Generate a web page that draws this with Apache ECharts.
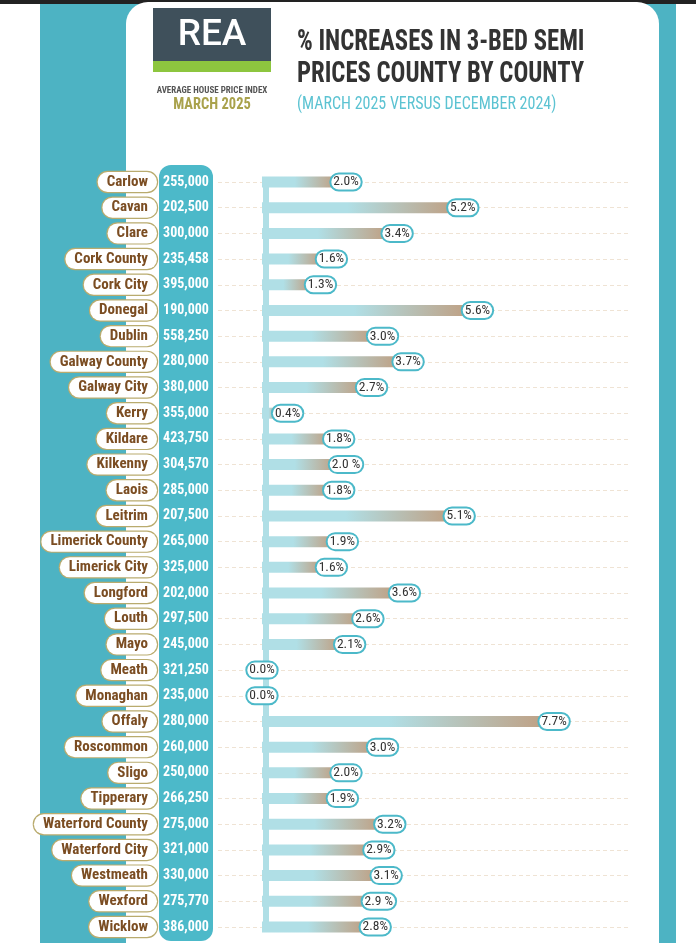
<!DOCTYPE html>
<html>
<head>
<meta charset="utf-8">
<script src="https://cdn.jsdelivr.net/npm/echarts@6/dist/echarts.min.js"></script>
<style>
  html, body { margin: 0; padding: 0; background: #fff; }
  #chart { width: 696px; height: 943px; }
</style>
</head>
<body>
<div id="chart"></div>
<script>
// 数据：各郡三居室半独立住宅价格及涨幅
const counties = ['Carlow', 'Cavan', 'Clare', 'Cork County', 'Cork City', 'Donegal', 'Dublin',
  'Galway County', 'Galway City', 'Kerry', 'Kildare', 'Kilkenny', 'Laois', 'Leitrim',
  'Limerick County', 'Limerick City', 'Longford', 'Louth', 'Mayo', 'Meath', 'Monaghan',
  'Offaly', 'Roscommon', 'Sligo', 'Tipperary', 'Waterford County', 'Waterford City',
  'Westmeath', 'Wexford', 'Wicklow'];
const prices = ['255,000', '202,500', '300,000', '235,458', '395,000', '190,000', '558,250',
  '280,000', '380,000', '355,000', '423,750', '304,570', '285,000', '207,500',
  '265,000', '325,000', '202,000', '297,500', '245,000', '321,250', '235,000',
  '280,000', '260,000', '250,000', '266,250', '275,000', '321,000',
  '330,000', '275,770', '386,000'];
const increases = [2.0, 5.2, 3.4, 1.6, 1.3, 5.6, 3.0, 3.7, 2.7, 0.4, 1.8, 2.0, 1.8, 5.1,
  1.9, 1.6, 3.6, 2.6, 2.1, 0.0, 0.0, 7.7, 3.0, 2.0, 1.9, 3.2, 2.9, 3.1, 2.9, 2.8];
const increaseLabels = ['2.0%', '5.2%', '3.4%', '1.6%', '1.3%', '5.6%', '3.0%', '3.7%', '2.7%',
  '0.4%', '1.8%', '2.0 %', '1.8%', '5.1%', '1.9%', '1.6%', '3.6%', '2.6%', '2.1%', '0.0%',
  '0.0%', '7.7%', '3.0%', '2.0%', '1.9%', '3.2%', '2.9%', '3.1%', '2.9 %', '2.8%'];

const FONT = '"Roboto Condensed", "Open Sans", sans-serif';
const TEAL = '#4cb9c9';
const BAR_START = '#b0dfe6';
const BAR_END = '#bfa185';

const chart = echarts.init(document.getElementById('chart'));

// 涨幅标签：非零值的标签略向右偏移
const barData = increases.map(v => ({
  value: v,
  label: { offset: v > 0 ? [11, 0] : [0, 0] }
}));

// 纵向拉伸的文字（原图字体较窄较高）
function tallText(text, x, y, font, fill, sy, align) {
  return {
    type: 'text', x: x, y: y, scaleY: sy,
    style: { text: text, x: 0, y: 0, fill: fill, font: font, textAlign: align || 'left', textVerticalAlign: 'middle' }
  };
}

const option = {
  animation: false,
  textStyle: { fontFamily: FONT },
  graphic: [
    // 背景
    { type: 'rect', z: -10, shape: { x: 0, y: 0, width: 696, height: 4 }, style: { fill: '#222' } },
    { type: 'rect', z: -10, shape: { x: 40, y: 4, width: 636, height: 939 }, style: { fill: '#4db3c3' } },
    { type: 'rect', z: -9, shape: { x: 126, y: 2, width: 533, height: 945, r: [22, 22, 0, 0] }, style: { fill: '#fff' } },
    // 价格栏
    { type: 'rect', z: -8, shape: { x: 159, y: 165, width: 54, height: 776, r: [12, 12, 12, 12] }, style: { fill: TEAL } },
    // 标志
    { type: 'rect', z: -8, shape: { x: 153, y: 8, width: 118, height: 53 }, style: { fill: '#3f505b' } },
    { type: 'rect', z: -8, shape: { x: 153, y: 61, width: 118, height: 11 }, style: { fill: '#8dc63f' } },
    tallText('REA', 212, 36, '500 37px Roboto', '#fff', 1, 'center'),
    tallText('AVERAGE HOUSE PRICE INDEX', 212, 91, 'bold 9px ' + FONT, '#555', 1.1, 'center'),
    tallText('MARCH 2025', 212, 105, 'bold 14.5px ' + FONT, '#a9a24c', 1.2, 'center'),
    // 标题
    tallText('% INCREASES IN 3-BED SEMI', 297, 43, 'bold 24.7px ' + FONT, '#333', 1.17),
    tallText('PRICES COUNTY BY COUNTY', 297, 75, 'bold 24.7px ' + FONT, '#333', 1.17),
    tallText('(MARCH 2025 VERSUS DECEMBER 2024)', 297, 104, '16px ' + FONT, '#5cc3d2', 1.15)
  ],
  grid: { left: 218, right: 66, top: 182, bottom: 16 },
  xAxis: {
    type: 'value',
    min: -1.205,
    max: 10.08,
    axisLine: { show: false },
    axisTick: { show: false },
    axisLabel: { show: false },
    splitLine: { show: false }
  },
  yAxis: [
    {
      type: 'category',
      data: counties,
      inverse: true,
      boundaryGap: false,
      axisLine: { show: false },
      axisTick: { show: false },
      splitLine: { show: true, lineStyle: { color: '#efe3d4', type: [4, 3], width: 1 } },
      axisLabel: {
        margin: 61,
        align: 'right',
        color: '#7b4d22',
        fontFamily: FONT,
        fontWeight: 'bold',
        fontSize: 15,
        backgroundColor: '#fff',
        borderColor: '#b9ab6e',
        borderWidth: 1.2,
        borderRadius: 10,
        padding: [3, 9, 2, 9]
      }
    },
    {
      type: 'category',
      data: prices,
      inverse: true,
      boundaryGap: false,
      position: 'left',
      axisLine: { show: false },
      axisTick: { show: false },
      splitLine: { show: false },
      axisLabel: {
        margin: 32,
        align: 'center',
        color: '#fff',
        fontFamily: FONT,
        fontWeight: 'bold',
        fontSize: 14
      }
    }
  ],
  series: [
    {
      type: 'bar',
      yAxisIndex: 0,
      data: barData,
      barWidth: 11,
      z: 3,
      itemStyle: {
        color: new echarts.graphic.LinearGradient(0, 0, 1, 0, [
          { offset: 0, color: BAR_START },
          { offset: 0.45, color: BAR_START },
          { offset: 1, color: BAR_END }
        ])
      },
      label: {
        show: true,
        position: ['100%', '50%'],
        align: 'center',
        verticalAlign: 'middle',
        formatter: p => increaseLabels[p.dataIndex],
        color: '#333',
        fontFamily: FONT,
        fontSize: 13.5,
        backgroundColor: '#fff',
        borderColor: TEAL,
        borderWidth: 2,
        borderRadius: 9,
        padding: [1, 2, 0, 2]
      },
      // 竖向连接线
      markLine: {
        silent: true,
        z: 1,
        symbol: 'none',
        label: { show: false },
        lineStyle: { color: BAR_START, width: 6, type: 'solid' },
        data: [{ xAxis: 0.1 }]
      }
    }
  ]
};

chart.setOption(option);
</script>
</body>
</html>
